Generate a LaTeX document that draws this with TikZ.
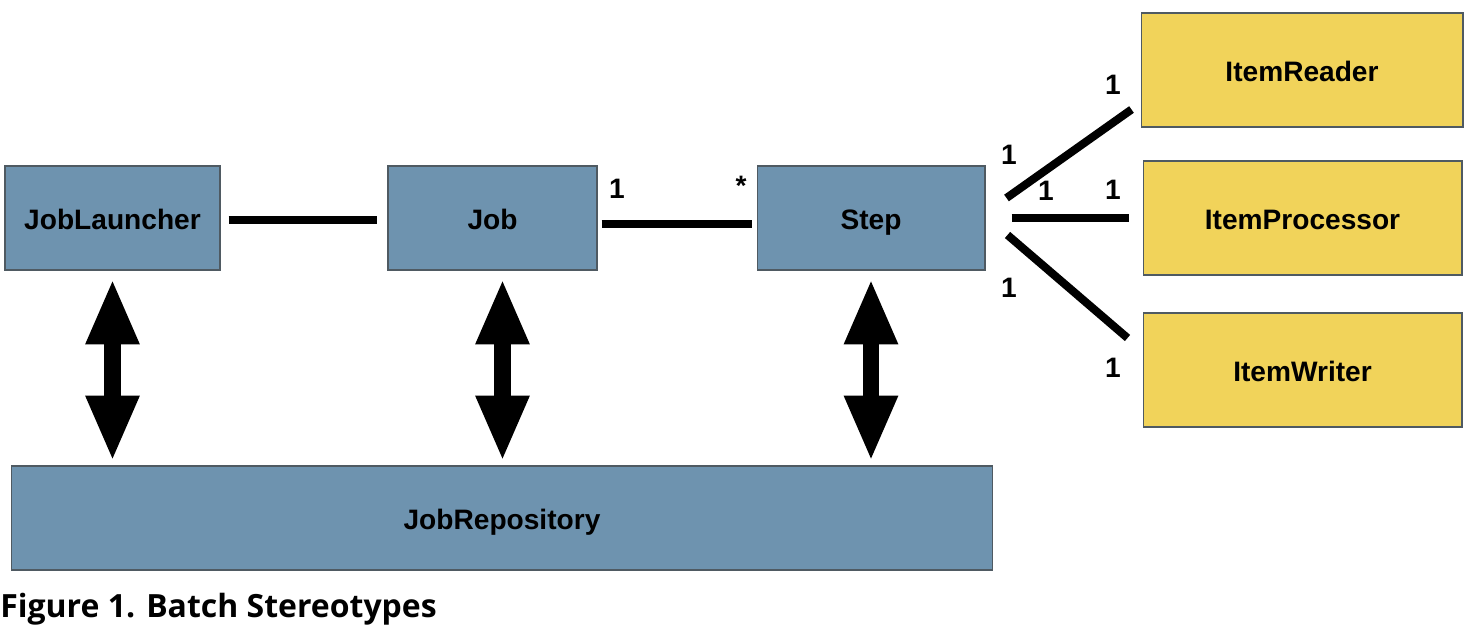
\documentclass[tikz,border=0pt]{standalone}
\usepackage{fontspec}
\setmainfont{Liberation Sans}
\newfontfamily\captionfont{Open Sans}
\usepackage{tikz}
\usetikzlibrary{arrows.meta,calc,positioning,shadows}
\definecolor{BatchBlue}{HTML}{6E93AF}
\definecolor{BatchYellow}{HTML}{F1D35A}
\definecolor{BatchBorder}{HTML}{4F5A62}
\definecolor{BatchShadow}{HTML}{9A9A9A}
\tikzset{
  stereotype/.style={draw=BatchBorder,line width=0.6pt,fill=BatchBlue,inner sep=0pt,minimum height=2.08cm,
    text height=13.4pt,text depth=0pt,font=\fontsize{16}{19}\selectfont\bfseries,
    drop shadow={shadow xshift=0.6pt,shadow yshift=-0.8pt,fill=BatchShadow,opacity=0.6}},
  component/.style={stereotype,fill=BatchYellow,minimum height=2.28cm},
  link/.style={line width=4.6pt,draw=black},
  dualarrow/.style={{Triangle[length=37.5pt,width=28pt]}-{Triangle[length=37.5pt,width=28pt]},line width=9.4pt,draw=black},
  mult/.style={font=\fontsize{16}{19}\selectfont\bfseries,inner sep=0pt},
  caption/.style={font=\captionfont\fontsize{18.2}{22}\selectfont\bfseries,inner sep=0pt}
}

\begin{document}
\begin{tikzpicture}[x=0.02cm,y=-0.02cm]
  \useasboundingbox (0,0) rectangle (1468,628);

  % stereotypes
  \node[stereotype,minimum width=4.3cm] (launcher) at (112.5,218) {JobLauncher};
  \node[stereotype,minimum width=4.18cm] (job) at (492.5,218) {Job};
  \node[stereotype,minimum width=4.56cm] (step) at (871,218) {Step};
  \node[stereotype,minimum width=19.62cm] (repo) at (502,518) {JobRepository};
  \node[component,minimum width=6.44cm] (reader) at (1302,70) {ItemReader};
  \node[component,minimum width=6.38cm] (processor) at (1302.5,218) {ItemProcessor};
  \node[component,minimum width=6.38cm] (writer) at (1302.5,370) {ItemWriter};

  % associations
  \draw[link] ([shift={(8,2)}]launcher.east) -- ([shift={(-10,2)}]job.west);
  \draw[link] ([shift={(4,6)}]job.east) -- ([shift={(-5,6)}]step.west);
  \draw[link] ([shift={(21,-20)}]step.east) -- ([shift={(-9,-18)}]reader.south west);
  \draw[link] ([shift={(26,0)}]step.east) -- ([shift={(-14,0)}]processor.west);
  \draw[link] ([shift={(22,17)}]step.east) -- ([shift={(-15,-32)}]writer.west);

  % multiplicities
  \node[mult] (mJob) at (617,189) {1};
  \node[mult] (mStep) at (741,186) {*};
  \node[mult] (mReaderS) at (1009,155) {1};
  \node[mult] (mReaderE) at (1113,85) {1};
  \node[mult] (mProcS) at (1046,191) {1};
  \node[mult] (mProcE) at (1113,190) {1};
  \node[mult] (mWriterS) at (1009,288) {1};
  \node[mult] (mWriterE) at (1113,368) {1};

  % repository access
  \draw[dualarrow] ([shift={(0,8)}]launcher.south) -- ($(launcher.south |- repo.north)+(0,-4)$);
  \draw[dualarrow] ([shift={(10,8)}]job.south) -- ($(job.south |- repo.north)+(10,-4)$);
  \draw[dualarrow] ([shift={(0,8)}]step.south) -- ($(step.south |- repo.north)+(0,-4)$);

  \node[caption,anchor=base west] (caption) at (0,617) {Figure 1. Batch Stereotypes};
\end{tikzpicture}
\end{document}
